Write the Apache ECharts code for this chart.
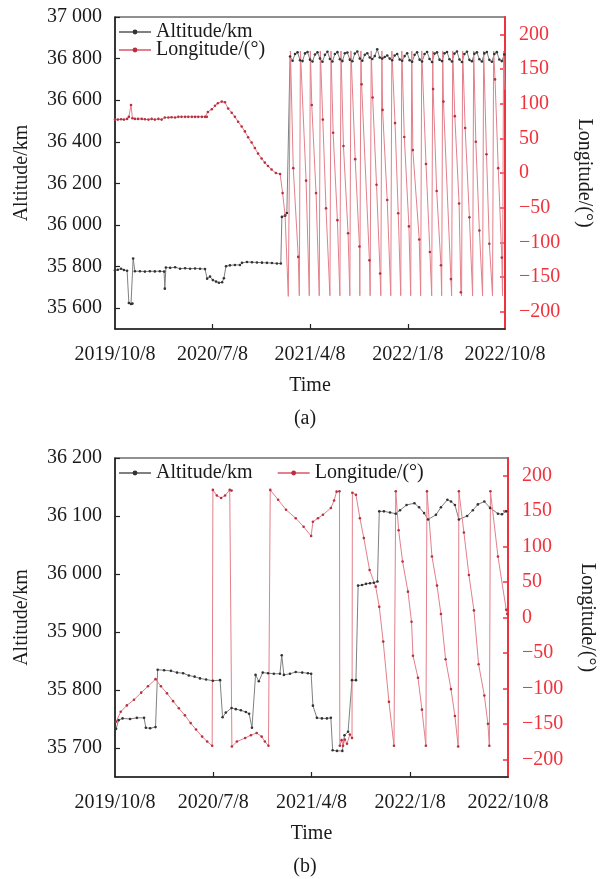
<!DOCTYPE html>
<html><head><meta charset="utf-8">
<script src="https://cdn.jsdelivr.net/npm/echarts@6/dist/echarts.min.js"></script>
<style>html,body{margin:0;padding:0;background:#fff}#c{width:610px;height:879px}</style>
</head><body><div id="c"></div>
<script>
// ---------- axis ticks ----------
const xTickDays = [0, 274, 548, 823, 1096];          // days after 2019/10/8
const xTickLabels = ['2019/10/8', '2020/7/8', '2021/4/8', '2022/1/8', '2022/10/8'];
const altTicksA = [35600, 35800, 36000, 36200, 36400, 36600, 36800, 37000];
const altTicksB = [35700, 35800, 35900, 36000, 36100, 36200];
const lonTicks = [-200, -150, -100, -50, 0, 50, 100, 150, 200];

// ---------- panel (a) ----------
const altA_days = [0,8,17,25,34,39,45,49,51,56,70,84,98,112,126,138,140,143,155,169,183,197,211,225,239,253,259,267,275,284,292,301,306,312,323,337,351,357,371,385,399,413,427,441,455,466,469,478,483,
 492,499,506,513,520,527,534,541,548,555,562,569,576,583,590,597,604,611,618,625,632,639,646,653,660,667,674,681,688,695,702,709,716,723,730,737,744,751,758,765,772,779,786,793,800,807,814,821,828,835,842,849,856,863,870,877,884,891,898,905,912,919,926,933,940,947,954,961,968,975,982,989,996,1003,1010,1017,1024,1031,1038,1045,1052,1059,1066,1073,1080,1087,1094];
const altA_km = [35783,35785,35790,35784,35780,35625,35620,35622,35839,35778,35778,35776,35778,35777,35778,35776,35694,35796,35794,35797,35790,35792,35790,35791,35790,35788,35742,35752,35735,35728,35722,35725,35744,35802,35806,35808,35808,35818,35822,35821,35820,35819,35818,35817,35815,35815,36039,36045,36058,
 36810,36790,36822,36830,36792,36788,36825,36832,36795,36786,36820,36830,36800,36785,36818,36833,36798,36786,36822,36831,36797,36788,36826,36829,36795,36787,36824,36834,36800,36790,36818,36826,36805,36798,36812,36845,36805,36800,36808,36815,36800,36792,36815,36822,36796,36790,36812,36826,36792,36785,36818,36830,36795,36786,36822,36832,36798,36784,36824,36830,36795,36788,36826,36832,36797,36786,36824,36834,36796,36784,36822,36833,36794,36787,36823,36830,36797,36786,36825,36832,36794,36785,36822,36831,36796,36788,36820];

// longitude (a): sampled (marked) points
const lonA_days = [0,8,17,25,34,39,45,49,56,65,75,84,94,103,112,122,131,140,150,159,169,178,187,197,206,216,225,234,244,253,258,261,272,281,289,300,309,318,328,337,346,356,365,374,384,393,402,412,421,430,440,452,464,471,478,
 501,515,537,553,565,584,593,613,625,642,655,675,687,693,715,724,735,745,752,765,787,796,813,826,837,855,874,885,894,904,916,923,944,955,967,972,984,996,1014,1024,1044,1052,1068,1077,1087];
const lonA_deg = [77,77,77.5,77,78,81,98,79,78,78,78,77.5,77,78,77,78,77,80,80,80.5,80,81,81,81,81,81,81,81,81,81,81,88,92,97,100.5,103,102,93,87,81,74,67,60,51.5,44,36,28,21,15,10,5,0,-1.5,-29,-61,
 7,-121,-11,98,-29,77,-51,58,-68,39,-87,20,-106,128,-126,109,-17,-145,91,-39,72,-58,52,-77,33,-96,13,-114,121,-26,-133,103,-153,82,-44,-172,65,-64,45,-83,27,-102,135,7,-122];
// longitude (a): unmarked wrap points (-180 -> +180 jumps)
const lonA_wrapDays = [487,493,518,521,546,549,574,577,604,607,632,635,660,663,688,691,717,720,747,750,775,778,803,806,831,834,859,862,890,893,918,921,946,949,974,977,1005,1008,1033,1036,1061,1064,1089,1092,1096];
const lonA_wrapDeg = [-178,176,-177,176,-177,176,-177,176,-177,176,-177,176,-177,176,-177,176,-177,176,-177,176,-177,176,-177,176,-177,176,-177,176,-177,176,-177,176,-177,176,-177,176,-177,176,-177,176,-177,176,-177,176,120];

// ---------- panel (b) ----------
const altB_days = [3,10,21,42,61,81,86,98,113,119,137,156,173,190,206,222,237,254,273,293,300,309,325,337,351,365,374,382,392,401,412,427,443,460,465,471,488,504,522,538,547,552,563,577,591,602,607,619,634,640,650,661,672,678,689,700,711,722,732,737,750,767,783,795,813,835,848,862,873,895,909,927,937,948,959,982,998,1012,1030,1046,1068,1079,1091];
const altB_km = [35733,35748,35751,35750,35752,35752,35735,35734,35736,35835,35834,35833,35830,35829,35825,35823,35820,35818,35816,35817,35753,35761,35769,35767,35765,35762,35759,35735,35826,35815,35830,35829,35828,35828,35860,35826,35828,35831,35830,35829,35828,35773,35752,35751,35751,35752,35696,35695,35695,35722,35728,35817,35817,35980,35981,35983,35984,35985,35987,36108,36108,36106,36104,36110,36119,36122,36115,36105,36094,36102,36115,36128,36125,36119,36094,36100,36110,36120,36125,36114,36104,36103,36108];
const lonB_days = [3,16,33,53,73,92,113,128,145,162,178,195,211,226,243,257,271,273,284,296,307,320,325,326,340,363,379,395,409,418,428,433,455,477,504,526,547,552,566,580,602,611,618,626,627,632,636,641,647,655,661,662,672,683,694,710,727,737,748,764,778,783,791,802,817,827,831,845,856,867,870,884,898,909,922,937,948,957,959,973,987,1001,1014,1030,1040,1044,1047,1068,1091,1094];
const lonB_deg = [-147,-133,-124,-116,-106,-97,-87,-97,-107,-118,-128,-138,-149,-158,-168,-175,-181,180,172,168.6,172,180,179,-182,-175,-170,-166,-163,-168,-175,-181,180,166,152,140,128,115,135,140,145,154.5,165,177.5,178,-181,-173,-181,-172,-178,-165,-170,176,173,140,112,67,43.5,15,-34,-119,-181,178,123,79,36.5,-6,-54,-85,-130,-181,178,86,45,5,-59,-101,-139,-182,178,120,60,10,-66,-110,-150,-181,178,86,11,5];

// ---------- build ----------
const F = '"Liberation Serif","Times New Roman",serif';
const ALT_LINE = '#808080', ALT_DOT = '#333333';
const LON_LINE = '#e3808b', LON_DOT = '#b83040', RED = '#f0323c';
const zip = (d, v) => d.map((x, i) => [x, v[i]]);
const lonAData = zip(lonA_days, lonA_deg).map(p => ({value: p}))
  .concat(zip(lonA_wrapDays, lonA_wrapDeg).map(p => ({value: p, symbol: 'none'})))
  .sort((a, b) => a.value[0] - b.value[0]);
const fmtAlt = v => String(v).replace(/(\d\d)(\d\d\d)$/, '$1 $2');
const fmtLon = v => (v < 0 ? '\u2212' + (-v) : String(v));
const txt = (c) => ({color: c || '#1a1a1a', fontSize: 20, fontFamily: F});

function xAxis(g) {
  return {type: 'value', gridIndex: g, min: 0, max: 1096,
    axisLine: {onZero: false, lineStyle: {color: '#222', width: 1.5}},
    axisTick: {inside: true, length: 5, customValues: xTickDays.slice(1, 4), lineStyle: {color: '#222', width: 1.2}},
    axisLabel: Object.assign({customValues: xTickDays, margin: 16,
      formatter: v => xTickLabels[xTickDays.indexOf(v)]}, txt()),
    splitLine: {show: false},
    name: 'Time', nameLocation: 'middle', nameGap: 47, nameTextStyle: txt()};
}
function yLeft(g, min, max, ticks) {
  return {type: 'value', gridIndex: g, position: 'left', min: min, max: max,
    axisLine: {show: true, onZero: false, lineStyle: {color: '#222', width: 1.5}},
    axisTick: {show: true, inside: true, length: 5, customValues: ticks, lineStyle: {color: '#222', width: 1.2}},
    axisLabel: Object.assign({customValues: ticks, margin: 13, formatter: fmtAlt}, txt()),
    splitLine: {show: false},
    name: 'Altitude/km', nameLocation: 'middle', nameGap: 83, nameTextStyle: txt()};
}
function yRight(g) {
  return {type: 'value', gridIndex: g, position: 'right', min: -225, max: 225,
    axisLine: {show: true, onZero: false, lineStyle: {color: RED, width: 2}},
    axisTick: {show: true, inside: true, length: 5, customValues: lonTicks, lineStyle: {color: RED, width: 1.5}},
    axisLabel: Object.assign({customValues: lonTicks, margin: 14, formatter: fmtLon}, txt(RED)),
    splitLine: {show: false},
    name: 'Longitude/(\u00b0)', nameLocation: 'middle', nameGap: 69, nameRotate: -90, nameTextStyle: txt()};
}
function altSeries(name, x, y, data) {
  return {name: name, type: 'line', xAxisIndex: x, yAxisIndex: y, data: data,
    symbol: 'circle', symbolSize: 2.6, showSymbol: true,
    lineStyle: {color: ALT_LINE, width: 1}, itemStyle: {color: ALT_DOT}, animation: false};
}
function lonSeries(name, x, y, data) {
  return {name: name, type: 'line', xAxisIndex: x, yAxisIndex: y, data: data,
    symbol: 'circle', symbolSize: 2.6, showSymbol: true,
    lineStyle: {color: LON_LINE, width: 1}, itemStyle: {color: LON_DOT}, animation: false};
}

const chart = echarts.init(document.getElementById('c'), null, {renderer: 'canvas'});
chart.setOption({
  backgroundColor: '#fff',
  animation: false,
  grid: [
    {left: 115, right: 105, top: 17, height: 312, show: true, borderColor: '#222', borderWidth: 1.2, backgroundColor: 'transparent'},
    {left: 115, right: 102, top: 458, height: 319, show: true, borderColor: '#222', borderWidth: 1.2, backgroundColor: 'transparent'}
  ],
  title: [
    {text: '(a)', left: 'center', top: 404, textStyle: Object.assign({fontWeight: 'normal'}, txt())},
    {text: '(b)', left: 'center', top: 852, textStyle: Object.assign({fontWeight: 'normal'}, txt())}
  ],
  legend: [
    {data: ['Altitude/km', 'Longitude/(\u00b0)'], orient: 'vertical', left: 118, top: 22, itemWidth: 32, itemHeight: 6, itemGap: -2,
     textStyle: txt(), padding: 0, selectedMode: false},
    {data: ['Altitude/km ', 'Longitude/(\u00b0) '], orient: 'horizontal', left: 118, top: 463, itemWidth: 32, itemHeight: 6, itemGap: 24,
     textStyle: txt(), padding: 0, selectedMode: false, formatter: n => n.trim()}
  ],
  xAxis: [xAxis(0), xAxis(1)],
  yAxis: [yLeft(0, 35500, 37000, altTicksA), yRight(0), yLeft(1, 35650, 36200, altTicksB), yRight(1)],
  series: [
    altSeries('Altitude/km', 0, 0, zip(altA_days, altA_km)),
    lonSeries('Longitude/(\u00b0)', 0, 1, lonAData),
    altSeries('Altitude/km ', 1, 2, zip(altB_days, altB_km)),
    lonSeries('Longitude/(\u00b0) ', 1, 3, zip(lonB_days, lonB_deg))
  ]
});
</script></body></html>
